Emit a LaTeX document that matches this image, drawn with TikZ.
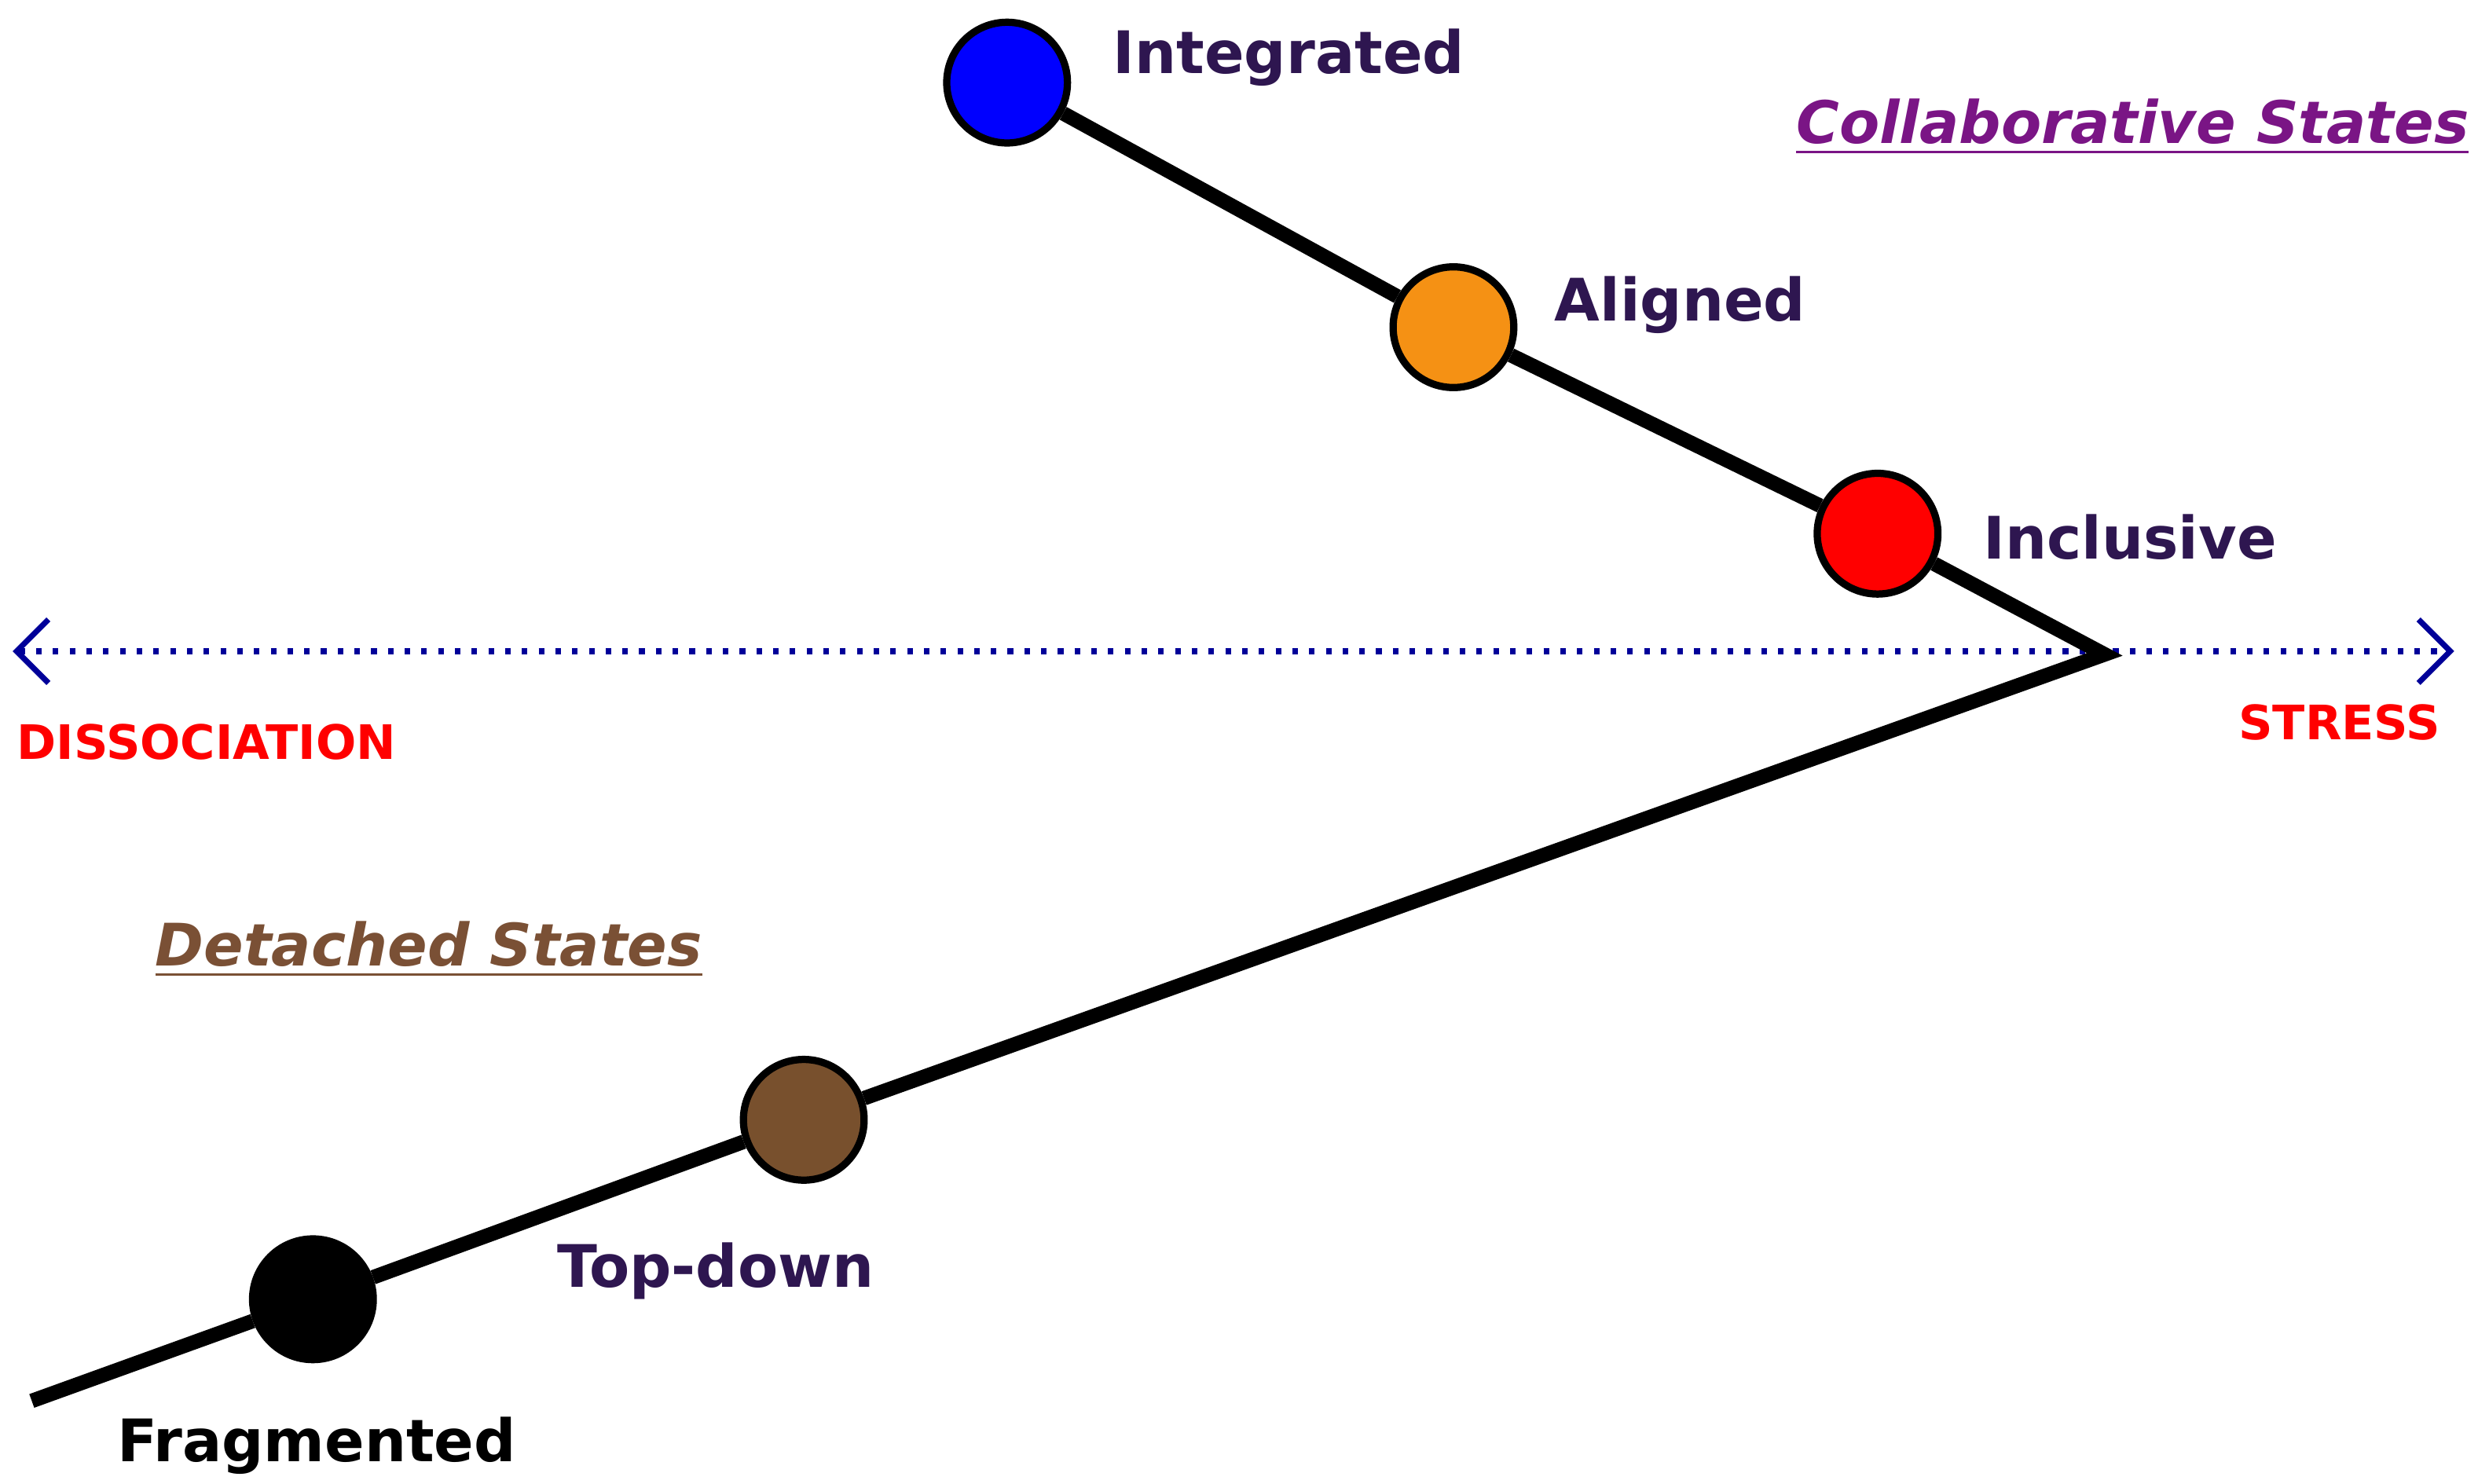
\documentclass[tikz,border=0pt]{standalone}
\usepackage{fontspec}
\setmainfont{DejaVu Sans}
\usetikzlibrary{arrows.meta}
\definecolor{lab}{HTML}{2E1650}
\definecolor{coll}{HTML}{7A1585}
\definecolor{det}{HTML}{7A5035}
\begin{document}
\begin{tikzpicture}[x=0.1mm,y=-0.1mm,
  st/.style={circle,draw=black,line width=1.3pt,minimum size=7.6mm,inner sep=0},
  lb/.style={font=\bfseries\fontsize{10.5}{12}\selectfont,text=lab,inner sep=0},
  rd/.style={font=\bfseries\fontsize{8.5}{10}\selectfont,text=red,inner sep=0}]
\useasboundingbox (0,0) rectangle (1560,934);
\coordinate (v) at (1325,412);
\coordinate (e) at (20,882);
\coordinate (l) at (8,410);
\coordinate (r) at (1545,410);
\draw[blue!60!black,dotted,line width=1pt,{Straight Barb[length=2mm]}-{Straight Barb[length=2mm]}] (l) -- (r);
\node[st,fill=blue] (int) at (634,52) {};
\node[st,fill={rgb,255:red,245;green,145;blue,20}] (ali) at (915,206) {};
\node[st,fill=red] (inc) at (1182,336) {};
\node[st,fill={rgb,255:red,120;green,80;blue,45}] (top) at (506,705) {};
\node[st,fill=black] (fra) at (197,818) {};
\draw[line width=2.6pt] (int) -- (ali) -- (inc) -- (v) -- (top) -- (fra) -- (e);
\node[lb,anchor=west] at (700,36) {Integrated};
\node[lb,anchor=west] at (978,192) {Aligned};
\node[lb,anchor=west] at (1248,338) {Inclusive};
\node[lb,anchor=west] at (350,800) {Top-down};
\node[lb,anchor=west,text=black] at (73,910) {Fragmented};
\node[rd,anchor=west] at (10,467) {DISSOCIATION};
\node[rd,anchor=east] at (1537,455) {STRESS};
\node[lb,anchor=east,text=coll,font=\bfseries\itshape\fontsize{10.5}{12}\selectfont] at (1555,80) {\underline{Collaborative States}};
\node[lb,anchor=west,text=det,font=\bfseries\itshape\fontsize{10.5}{12}\selectfont] at (97,598) {\underline{Detached States}};
\end{tikzpicture}
\end{document}
